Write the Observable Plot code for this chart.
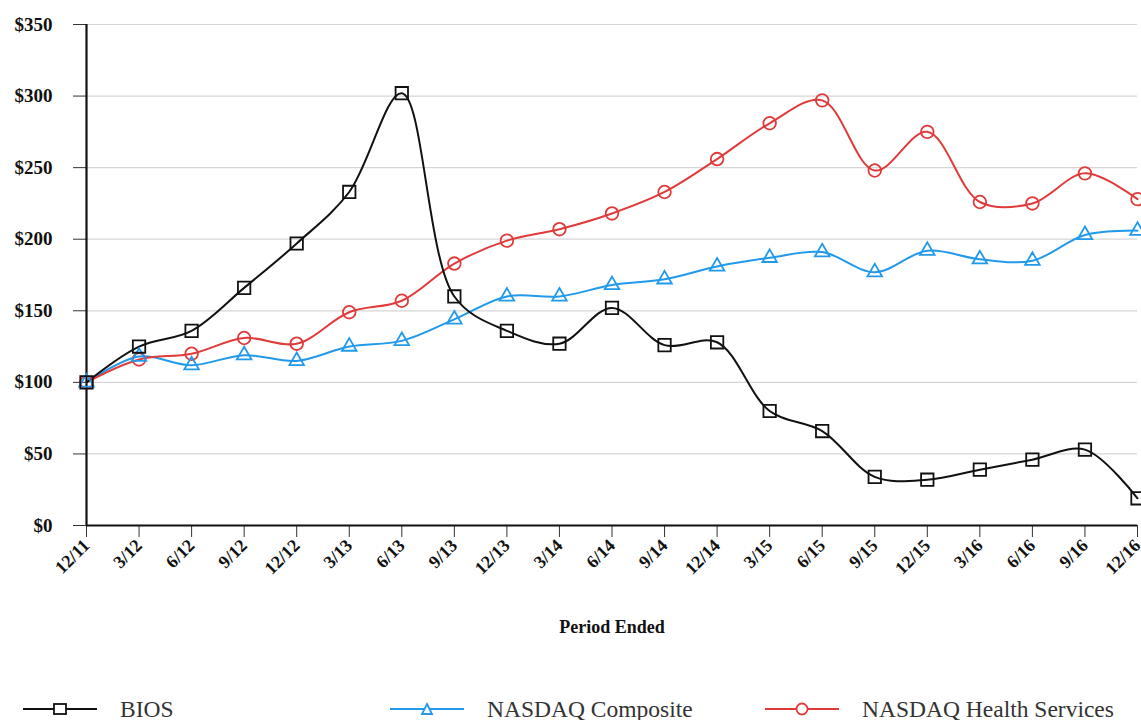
<!DOCTYPE html>
<html>
<head>
<meta charset="utf-8">
<script src="https://cdn.jsdelivr.net/npm/d3@7"></script>
<script src="https://cdn.jsdelivr.net/npm/@observablehq/plot@0.6"></script>
<style>
  html, body { margin: 0; padding: 0; background: white; }
  #wrap { position: relative; width: 1141px; height: 720px; }
  .leg { position: absolute; top: 695px; height: 28px; display: flex; align-items: center;
         font-family: "Liberation Serif", "Times New Roman", "DejaVu Serif", serif; font-size: 23.5px; color: #333; }
  .leg svg { margin-right: 23px; }
</style>
</head>
<body>
<div id="wrap"></div>
<script>
const periods = ["12/11","3/12","6/12","9/12","12/12","3/13","6/13","9/13","12/13","3/14","6/14",
                 "9/14","12/14","3/15","6/15","9/15","12/15","3/16","6/16","9/16","12/16"];
const bios    = [100,125,136,166,197,233,302,160,136,127,152,126,128,80,66,34,32,39,46,53,19];
const nasdaq  = [100,118,112,119,115,125,129,144,160,160,168,172,181,187,191,177,192,186,185,203,206];
const health  = [100,116,120,131,127,149,157,183,199,207,218,233,256,281,297,248,275,226,225,246,228];
const seriesNames = ["BIOS","NASDAQ Composite","NASDAQ Health Services"];
const seriesColors = ["#111111","#2299ea","#e03a3a"];
const seriesSymbols = ["square","triangle","circle"];
const seriesR = [7, 5.4, 6.3];
const yTicks = [0,50,100,150,200,250,300,350];

const seriesValues = [bios, nasdaq, health];
const rows = [];
seriesNames.forEach((s, i) => periods.forEach((p, j) => rows.push({series: s, period: p, value: seriesValues[i][j]})));

const dotMarks = seriesNames.map((s, i) =>
  Plot.dot(rows.filter(d => d.series === s), {
    x: "period", y: "value", symbol: () => seriesSymbols[i], r: seriesR[i],
    stroke: seriesColors[i], strokeWidth: 1.8, fill: "none"
  })
).reverse();

const chart = Plot.plot({
  width: 1141, height: 660,
  marginLeft: 86, marginRight: 4, marginTop: 24, marginBottom: 135,
  style: { fontFamily: "'Liberation Serif', 'Times New Roman', serif", fontWeight: "bold", fontSize: "18px", background: "white", color: "#111" },
  x: { type: "point", domain: periods, padding: 0, round: false, insetLeft: 0, insetRight: 0 },
  y: { domain: [0, 350], insetTop: 0, insetBottom: 0 },
  symbol: { type: "identity" },
  color: { domain: seriesNames, range: seriesColors },
  marks: [
    Plot.gridY(yTicks, { stroke: "#d6d6d6", strokeOpacity: 1, strokeWidth: 1.2 }),
    Plot.axisY(yTicks, { tickFormat: d => "$" + d, tickSize: 13, tickPadding: 21, label: null, stroke: "#333", fontSize: 19 }),
    Plot.axisX({ tickRotate: -45, tickSize: 12, tickPadding: 5, label: "Period Ended",
                 labelAnchor: "center", labelOffset: 107, stroke: "#333", fontSize: 18 }),
    Plot.ruleY([0], { stroke: "#111", strokeWidth: 2.2 }),
    Plot.ruleX([periods[0]], { stroke: "#111", strokeWidth: 2.2 }),
    Plot.line(rows.filter(d => d.series !== "BIOS"), { x: "period", y: "value", z: "series", stroke: "series", curve: "catmull-rom", strokeWidth: 2 }),
    Plot.line(rows.filter(d => d.series === "BIOS"), { x: "period", y: "value", stroke: "series", curve: "catmull-rom", strokeWidth: 2 }),
    ...dotMarks
  ]
});
const wrap = document.getElementById("wrap");
wrap.appendChild(chart);

const legendLefts = [23, 390, 765];
seriesNames.forEach((s, i) => {
  const div = document.createElement("div");
  div.className = "leg";
  div.style.left = legendLefts[i] + "px";
  let icon;
  if (i === 0) icon = '<rect x="31" y="9" width="12" height="10" fill="white" stroke="' + seriesColors[i] + '" stroke-width="1.8"/>';
  else if (i === 1) icon = '<path d="M37,9 L42,19 L32,19 Z" fill="white" stroke="' + seriesColors[i] + '" stroke-width="1.8"/>';
  else icon = '<circle cx="37" cy="14" r="5.5" fill="white" stroke="' + seriesColors[i] + '" stroke-width="1.8"/>';
  div.innerHTML = '<svg width="74" height="28"><line x1="0" x2="74" y1="14" y2="14" stroke="' + seriesColors[i] + '" stroke-width="2.2"/>' + icon + '</svg><span>' + s + '</span>';
  wrap.appendChild(div);
});
</script>
</body>
</html>
